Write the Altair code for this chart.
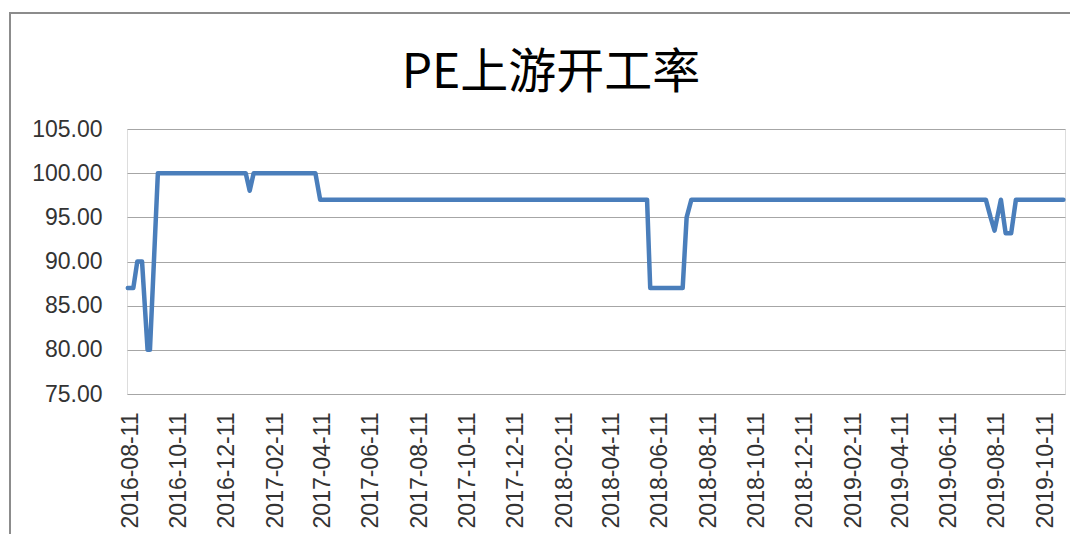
import altair as alt
import pandas as pd

# Data -- change points of the weekly series
dates = [
    "2016-08-08", "2016-08-15", "2016-08-20", "2016-08-26", "2016-09-02",
    "2016-09-05", "2016-09-15", "2017-01-04", "2017-01-09", "2017-01-14",
    "2017-04-02", "2017-04-08", "2018-05-26", "2018-05-30", "2018-07-10",
    "2018-07-15", "2018-07-21", "2019-07-28", "2019-08-03", "2019-08-08",
    "2019-08-16", "2019-08-22", "2019-08-29", "2019-09-04", "2019-11-03",
]
values = [
    87, 87, 90, 90, 80,
    80, 100, 100, 98, 100,
    100, 97, 97, 87, 87,
    95, 97, 97, 95, 93.5,
    97, 93.2, 93.2, 97, 97,
]
tick_dates = [
    (2016, 8), (2016, 10), (2016, 12), (2017, 2), (2017, 4), (2017, 6),
    (2017, 8), (2017, 10), (2017, 12), (2018, 2), (2018, 4), (2018, 6),
    (2018, 8), (2018, 10), (2018, 12), (2019, 2), (2019, 4), (2019, 6),
    (2019, 8), (2019, 10),
]
y_ticks = [75, 80, 85, 90, 95, 100, 105]
title_text = "PE上游开工率"

df = pd.DataFrame({"date": dates, "value": values})

tick_values = [alt.DateTime(year=y, month=m, date=11, utc=True) for y, m in tick_dates]

grid_color = "#a6a6a6"
label_color = "#333333"

line = alt.Chart(df).mark_line(
    color="#4a7ebb", strokeWidth=4.5, strokeJoin="round", strokeCap="round"
).encode(
    x=alt.X(
        "date:T",
        scale=alt.Scale(
            type="utc",
            domain=[
                alt.DateTime(year=2016, month=8, date=7, utc=True),
                alt.DateTime(year=2019, month=11, date=5, utc=True),
            ],
        ),
        axis=alt.Axis(
            values=tick_values,
            labelExpr="utcFormat(datum.value, '%Y-%m-%d')",
            labelAngle=270,
            labelFont="Liberation Sans",
            labelFontSize=23,
            labelColor=label_color,
            labelPadding=18,
            ticks=False,
            tickSize=0,
            domain=False,
            grid=False,
            title=None,
            labelOverlap=False,
        ),
    ),
    y=alt.Y(
        "value:Q",
        scale=alt.Scale(domain=[75, 105], nice=False, zero=False),
        axis=alt.Axis(
            values=y_ticks,
            format=".2f",
            labelFont="Liberation Sans",
            labelFontSize=23,
            labelColor=label_color,
            labelPadding=25,
            ticks=False,
            tickSize=0,
            domain=False,
            grid=True,
            gridColor=grid_color,
            gridWidth=1,
            title=None,
        ),
    ),
)

frame = alt.Chart(pd.DataFrame({"a": [0]})).mark_rect(
    fillOpacity=0, stroke="#8c8c8c", strokeWidth=2
).encode(
    x=alt.value(-117), y=alt.value(-116), x2=alt.value(975), y2=alt.value(440)
)

chart = alt.layer(frame, line).properties(
    width=938,
    height=265,
    autosize=alt.AutoSizeParams(type="none"),
    padding={"left": 119, "top": 121, "right": 5, "bottom": 140},
    title=alt.Title(
        title_text,
        font="Noto Sans CJK SC",
        fontSize=48,
        fontWeight="normal",
        color="#000000",
        anchor="middle",
        frame="group",
        baseline="alphabetic",
        offset=30,
        dx=-45,
        dy=154,
    ),
).configure_view(stroke="transparent", strokeWidth=0).configure(background="white")

chart.save("out.html", embed_options={"renderer": "svg", "actions": False})
